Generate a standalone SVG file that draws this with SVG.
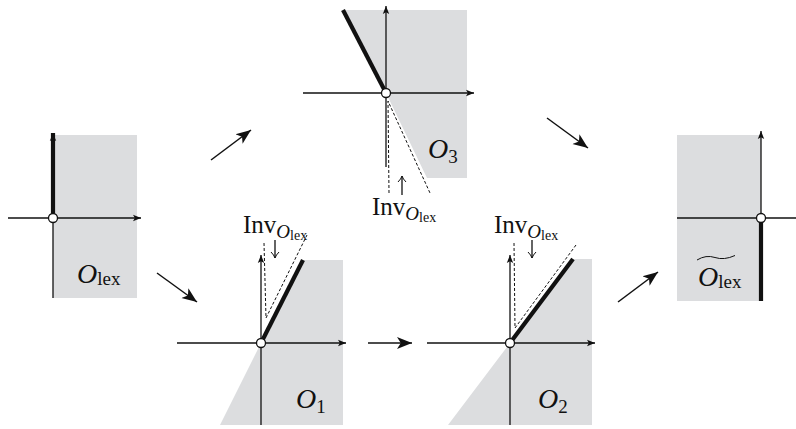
<svg xmlns="http://www.w3.org/2000/svg" width="796" height="429" viewBox="0 0 796 429">
<style>
.bg{fill:#ffffff}
.g{fill:#dcdddf;stroke:none}
.ax{stroke:#111;stroke-width:1.3;fill:none}
.th{stroke:#111;stroke-width:4.2;fill:none}
.ds{stroke:#111;stroke-width:1;stroke-dasharray:3 2;fill:none}
.o{fill:#fff;stroke:#111;stroke-width:1.3}
.cn{stroke:#111;stroke-width:1.5;fill:none}
.t{fill:#111}
.it{font-style:italic}
</style>
<defs>
<marker id="axh" markerUnits="userSpaceOnUse" markerWidth="9" markerHeight="8" refX="8" refY="4" orient="auto">
<path d="M0,0.8 L8,4 L0,7.2 L1.8,4 z" fill="#111"/>
</marker>
<marker id="big" markerUnits="userSpaceOnUse" markerWidth="17" markerHeight="13" refX="15" refY="6.5" orient="auto">
<path d="M0,0.5 L15,6.5 L0,12.5 L3.8,6.5 z" fill="#111"/>
</marker>
<marker id="hook" markerUnits="userSpaceOnUse" markerWidth="10" markerHeight="10" refX="6" refY="5" orient="auto">
<path d="M0,1 Q3,4 6,5 Q3,6 0,9" fill="none" stroke="#111" stroke-width="1"/>
</marker>
</defs>
<rect class="bg" x="0" y="0" width="796" height="429"/>

<g id="panel-Olex">
<rect class="g" x="53" y="135" width="84" height="163"/>
<line class="ax" x1="8" y1="218" x2="141" y2="218" marker-end="url(#axh)"/>
<line class="ax" x1="53" y1="218" x2="53" y2="298"/>
<line class="th" x1="53" y1="218" x2="53" y2="133" marker-end="url(#axh)"/>
<circle class="o" cx="53" cy="218" r="4.5"/>
<text class="t" font-family="'Liberation Serif','Times New Roman',serif" x="77" y="283" font-size="28"><tspan class="it">O</tspan><tspan font-size="19" dy="2">lex</tspan></text>
</g>

<g id="panel-O3">
<polygon class="g" points="386,93 343,10 467,10 467,178 427,178"/>
<line class="ax" x1="303" y1="93" x2="474" y2="93" marker-end="url(#axh)"/>
<line class="ax" x1="386" y1="167" x2="386" y2="6" marker-end="url(#axh)"/>
<line class="th" x1="386" y1="93" x2="343" y2="10"/>
<polyline class="ds" points="389,193 388,101 430,193"/>
<circle class="o" cx="386" cy="93" r="4.5"/>
<text class="t" font-family="'Liberation Serif','Times New Roman',serif" x="428" y="158" font-size="28"><tspan class="it">O</tspan><tspan font-size="19" dy="5">3</tspan></text>
<line class="ax" x1="402" y1="195" x2="402" y2="176" stroke-width="1" marker-end="url(#hook)"/>
<text class="t" font-family="'Liberation Serif','Times New Roman',serif" x="372" y="215" font-size="25">Inv<tspan class="it" font-size="19" dy="5">O</tspan><tspan font-size="14" dy="2">lex</tspan></text>
</g>

<g id="panel-O1">
<polygon class="g" points="261,343 303,260 343,260 343,425 220,425"/>
<line class="ax" x1="177" y1="343" x2="346" y2="343" marker-end="url(#axh)"/>
<line class="ax" x1="261" y1="425" x2="261" y2="255" marker-end="url(#axh)"/>
<line class="th" x1="261" y1="343" x2="303" y2="260"/>
<polyline class="ds" points="264,243 266,318 307,235"/>
<circle class="o" cx="261" cy="343" r="4.5"/>
<text class="t" font-family="'Liberation Serif','Times New Roman',serif" x="296" y="408" font-size="28"><tspan class="it">O</tspan><tspan font-size="19" dy="5">1</tspan></text>
<line class="ax" x1="275" y1="240" x2="275" y2="258" stroke-width="1" marker-end="url(#hook)"/>
<text class="t" font-family="'Liberation Serif','Times New Roman',serif" x="243" y="233" font-size="25">Inv<tspan class="it" font-size="19" dy="5">O</tspan><tspan font-size="14" dy="2">lex</tspan></text>
</g>

<g id="panel-O2">
<polygon class="g" points="510,343 573,259 592,259 592,425 448,425"/>
<line class="ax" x1="427" y1="343" x2="595" y2="343" marker-end="url(#axh)"/>
<line class="ax" x1="510" y1="425" x2="510" y2="255" marker-end="url(#axh)"/>
<line class="th" x1="510" y1="343" x2="573" y2="259"/>
<polyline class="ds" points="514,243 515,328 576,245"/>
<circle class="o" cx="510" cy="343" r="4.5"/>
<text class="t" font-family="'Liberation Serif','Times New Roman',serif" x="538" y="408" font-size="28"><tspan class="it">O</tspan><tspan font-size="19" dy="5">2</tspan></text>
<line class="ax" x1="532" y1="240" x2="532" y2="258" stroke-width="1" marker-end="url(#hook)"/>
<text class="t" font-family="'Liberation Serif','Times New Roman',serif" x="494" y="233" font-size="25">Inv<tspan class="it" font-size="19" dy="5">O</tspan><tspan font-size="14" dy="2">lex</tspan></text>
</g>

<g id="panel-Olex-tilde">
<rect class="g" x="677" y="135" width="84" height="166"/>
<line class="ax" x1="677" y1="218" x2="796" y2="218"/>
<line class="ax" x1="761" y1="218" x2="761" y2="131" marker-end="url(#axh)"/>
<line class="th" x1="761" y1="218" x2="761" y2="301"/>
<circle class="o" cx="761" cy="218" r="4.5"/>
<text class="t" font-family="'Liberation Serif','Times New Roman',serif" x="698" y="286" font-size="28"><tspan class="it">O</tspan><tspan font-size="19" dy="2">lex</tspan></text>
<path d="M697,260 Q706,254.5 715,257.5 Q724,260.5 735,255.5" fill="none" stroke="#111" stroke-width="1"/>
</g>

<g id="connectors">
<line class="cn" x1="211" y1="160" x2="251" y2="130" marker-end="url(#big)"/>
<line class="cn" x1="547" y1="118" x2="588" y2="148" marker-end="url(#big)"/>
<line class="cn" x1="157" y1="273" x2="197" y2="302" marker-end="url(#big)"/>
<line class="cn" x1="368" y1="343" x2="412" y2="343" marker-end="url(#big)"/>
<line class="cn" x1="618" y1="302" x2="658" y2="272" marker-end="url(#big)"/>
</g>
</svg>
